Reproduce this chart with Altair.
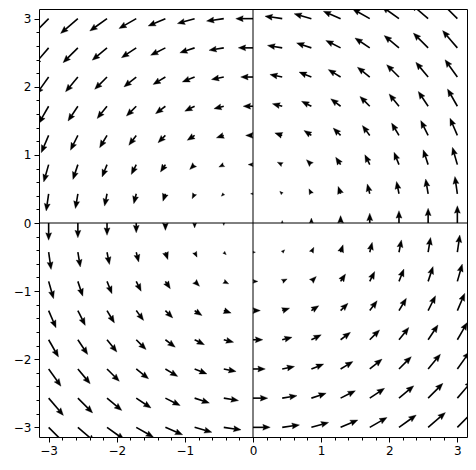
import math
import altair as alt
import pandas as pd

# grid of arrow tails (both axes)
grid = [-3.0, -2.571, -2.143, -1.714, -1.286, -0.857, -0.429, 0.0,
        0.429, 0.857, 1.286, 1.714, 2.143, 2.571, 3.0]
tick_values = [round(-3.0 + 0.2 * i, 1) for i in range(31)]


def field(x, y):
    # rotational vector field: (-y, x)
    return -y, x


W = 428
PX_PER_UNIT = W / (2 * math.pi)
SCALE = 0.0845          # data units of arrow per unit of magnitude
HEAD_PX = 7.5           # head length in pixels
HEAD_DATA = HEAD_PX / PX_PER_UNIT

rows = []
for gx in grid:
    for gy in grid:
        u, v = field(gx, gy)
        mag = math.hypot(u, v)
        if mag == 0:
            continue
        L = SCALE * mag
        dx, dy = u / mag, v / mag
        tipx, tipy = gx + dx * L, gy + dy * L
        Lpx = L * PX_PER_UNIT
        if Lpx < HEAD_PX:
            f = Lpx / HEAD_PX
            shaft_end = 0.0
        else:
            f = 1.0
            shaft_end = L - 0.85 * HEAD_DATA
        ang = (math.degrees(math.atan2(u, v)) + 360) % 360
        rows.append(dict(x=gx, y=gy, tx=tipx, ty=tipy,
                         sx=gx + dx * max(shaft_end, 0), sy=gy + dy * max(shaft_end, 0),
                         has_shaft=1 if shaft_end > 0 else 0,
                         ang=ang, size=(2 * HEAD_PX * f) ** 2))
df = pd.DataFrame(rows)

dom = [-math.pi, math.pi]
xs = alt.Scale(domain=dom, nice=False, zero=False)
ys = alt.Scale(domain=dom, nice=False, zero=False)

cond = "abs(datum.value - round(datum.value)) < 0.001"
lab = f"{cond} ? format(round(datum.value), 'd') : ''"


def ax():
    return alt.Axis(values=tick_values, labelExpr=lab, grid=False, domain=False,
                    tickColor="black", tickWidth=1,
                    tickSize={"condition": {"test": cond, "value": 5}, "value": 3},
                    labelFont="DejaVu Sans", labelFontSize=12, labelColor="black",
                    labelPadding=3, title=None, labelOverlap=False,
                    labelFlush=False, labelBound=False)


base = alt.Chart(df)

shafts = base.transform_filter("datum.has_shaft == 1").mark_rule(
    color="black", strokeWidth=1.6, clip=True).encode(
    x=alt.X("x:Q", scale=xs, axis=ax()),
    y=alt.Y("y:Q", scale=ys, axis=ax()),
    x2="sx:Q", y2="sy:Q")

head_path = "M0,0 L0.4,1 L0,0.88 L-0.4,1 Z"
heads = base.mark_point(shape=head_path, filled=True, color="black", opacity=1,
                        strokeWidth=0.3, stroke="black", clip=True).encode(
    x=alt.X("tx:Q", scale=xs, axis=ax()),
    y=alt.Y("ty:Q", scale=ys, axis=ax()),
    angle=alt.Angle("ang:Q", scale=None),
    size=alt.Size("size:Q", scale=None))

axis_df = pd.DataFrame({"v": [0.0]})
hline = alt.Chart(axis_df).mark_rule(color="black", strokeWidth=1).encode(
    y=alt.Y("v:Q", scale=ys, axis=ax()))
vline = alt.Chart(axis_df).mark_rule(color="black", strokeWidth=1).encode(
    x=alt.X("v:Q", scale=xs, axis=ax()))

chart = alt.layer(shafts, heads, hline, vline).properties(
    width=W, height=W,
    autosize=alt.AutoSizeParams(type="none"),
    padding={"left": 31, "top": 1, "right": 1, "bottom": 21},
).configure(background="white").configure_view(stroke="black", strokeWidth=1)

chart.save("out.html", embed_options={"renderer": "svg", "actions": False})
